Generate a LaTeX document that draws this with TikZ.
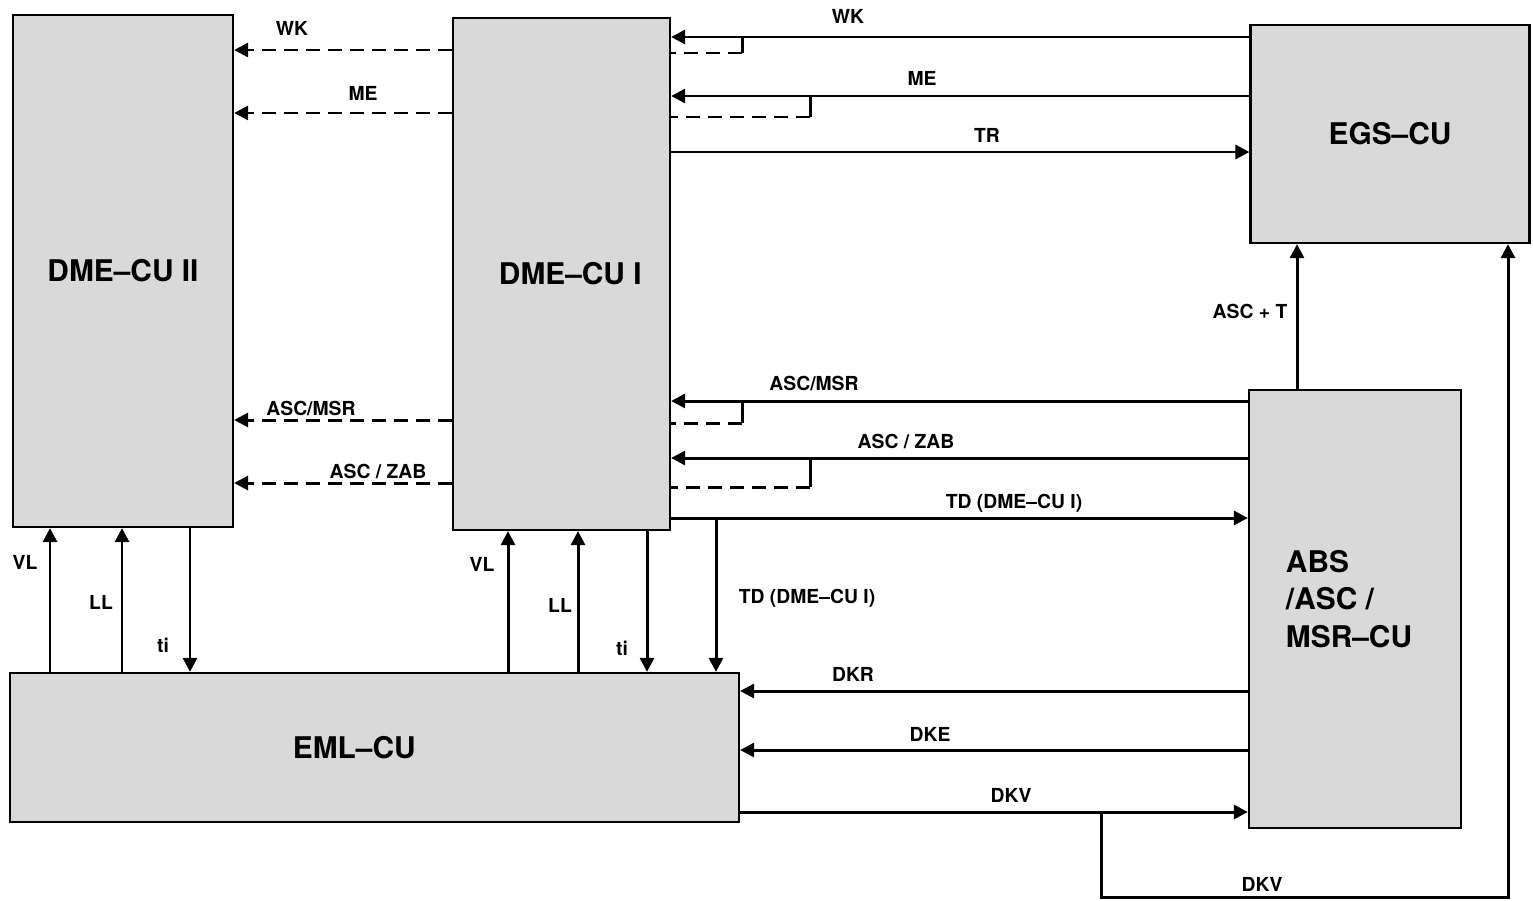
\documentclass[tikz,border=0pt]{standalone}
\usepackage{fontspec}
\setmainfont{TeX Gyre Heros}
\usetikzlibrary{arrows.meta}

\tikzset{
  unit/.style={rectangle, draw, line width=1.3pt, fill=black!15, inner sep=0pt,
    font=\fontsize{17}{21.5}\selectfont\bfseries},
  wire/.style={line width=1.7pt},
  link/.style={->, line width=1.7pt},
  fb/.style={line width=1.7pt, dash pattern=on 8pt off 4.5pt},
}

\begin{document}
\begin{tikzpicture}[x=0.02cm, y=-0.02cm, >={Triangle[length=8pt,width=8pt]},
  every node/.style={font=\fontsize{11}{13}\selectfont\bfseries}]

\useasboundingbox (0,0) rectangle (1533,900);

% Units
\node[unit, minimum width=4.4cm, minimum height=10.24cm] at (123,271) (dme2) {DME--CU II};
\node[unit, minimum width=4.34cm, minimum height=10.24cm] at (561.5,274) (dme1) {\hspace{10pt}DME--CU I};
\node[unit, minimum width=5.58cm, minimum height=4.36cm] at (1390,134) (egs) {EGS--CU};
\node[unit, minimum width=4.24cm, minimum height=8.76cm] at (1355,609) (abs) {};
\node[font=\fontsize{17}{21.5}\selectfont\bfseries, align=left] at (1349,599) (absTxt) {ABS\\/ASC /\\MSR--CU};
\node[unit, minimum width=14.58cm, minimum height=2.98cm] at (374.5,747.5) (eml) {\hspace{-23pt}EML--CU};

% EGS-CU <-> DME-CU I
\draw[link] (egs.west |- 0,37) -- (dme1.east |- 0,37);
\draw[link] (egs.west |- 0,96) -- (dme1.east |- 0,96);
\draw[link] (dme1.east |- 0,152) -- (egs.west |- 0,152);
\node at (848,16) (wkR) {WK};
\node at (922,78) (meR) {ME};
\node at (987,135) (trR) {TR};

% ABS/ASC/MSR-CU <-> DME-CU I
\draw[link] (abs.west |- 0,401) -- (dme1.east |- 0,401);
\draw[link] (abs.west |- 0,458) -- (dme1.east |- 0,458);
\draw[link] (dme1.east |- 0,518) -- (abs.west |- 0,518);
\node at (814,383) (msrR) {ASC/MSR};
\node at (906,441) (zabR) {ASC / ZAB};
\node at (1014,503) (tdR) {TD (DME--CU I)};

% feedback taps
\foreach \name/\x/\ya/\yb in {wk/742/37/53, me/810/96/117, msr/742/401/423, zab/810/458/487} {
  \coordinate (\name a) at (\x,\ya);
  \coordinate (\name b) at (\x,\yb);
  \draw[wire] (\name a) -- (\name b);
  \draw[fb] (\name b) -- (dme1.east |- \name b);
}

% DME-CU I -> DME-CU II
\draw[fb, ->] (dme1.west |- 0,50) -- (dme2.east |- 0,50);
\draw[fb, ->] (dme1.west |- 0,113) -- (dme2.east |- 0,113);
\draw[fb, ->] (dme1.west |- 0,420) -- (dme2.east |- 0,420);
\draw[fb, ->] (dme1.west |- 0,483) -- (dme2.east |- 0,483);
\node at (292,28) (wkL) {WK};
\node at (363,93) (meL) {ME};
\node at (311,408) (msrL) {ASC/MSR};
\node at (378,471) (zabL) {ASC / ZAB};

% EML-CU <-> DME-CU II
\draw[link] (eml.north -| 50,0) -- (dme2.south -| 50,0);
\draw[link] (eml.north -| 122,0) -- (dme2.south -| 122,0);
\draw[link] (dme2.south -| 190,0) -- (eml.north -| 190,0);
\node at (25,562) (vl2) {VL};
\node at (101,602) (ll2) {LL};
\node at (163,645) (ti2) {ti};

% EML-CU <-> DME-CU I
\draw[link] (eml.north -| 508,0) -- (dme1.south -| 508,0);
\draw[link] (eml.north -| 578,0) -- (dme1.south -| 578,0);
\draw[link] (dme1.south -| 647,0) -- (eml.north -| 647,0);
\node at (482,564) (vl1) {VL};
\node at (560,605) (ll1) {LL};
\node at (622,648) (ti1) {ti};

% TD branch to EML-CU
\coordinate (tdT) at (716,518);
\draw[link] (tdT) -- (eml.north -| tdT);
\node at (807,598) (tdD) {TD (DME--CU I)};

% ABS/ASC/MSR-CU <-> EML-CU
\draw[link] (abs.west |- 0,691) -- (eml.east |- 0,691);
\draw[link] (abs.west |- 0,750) -- (eml.east |- 0,750);
\draw[link] (eml.east |- 0,812) -- (abs.west |- 0,812);
\node at (853,674) (dkr) {DKR};
\node at (930,734) (dke) {DKE};
\node at (1011,795) (dkv) {DKV};

% DKV loop and ASC + T to EGS-CU
\coordinate (dkvT) at (1101,812);
\coordinate (dkvB) at (1101,897);
\draw[link] (dkvT) -- (dkvB) -| (egs.south -| 1508,0);
\node at (1262,884) (dkvL) {DKV};
\draw[link] (abs.north -| 1297,0) -- (egs.south -| 1297,0);
\node at (1250,311) (asct) {ASC + T};

\end{tikzpicture}
\end{document}
